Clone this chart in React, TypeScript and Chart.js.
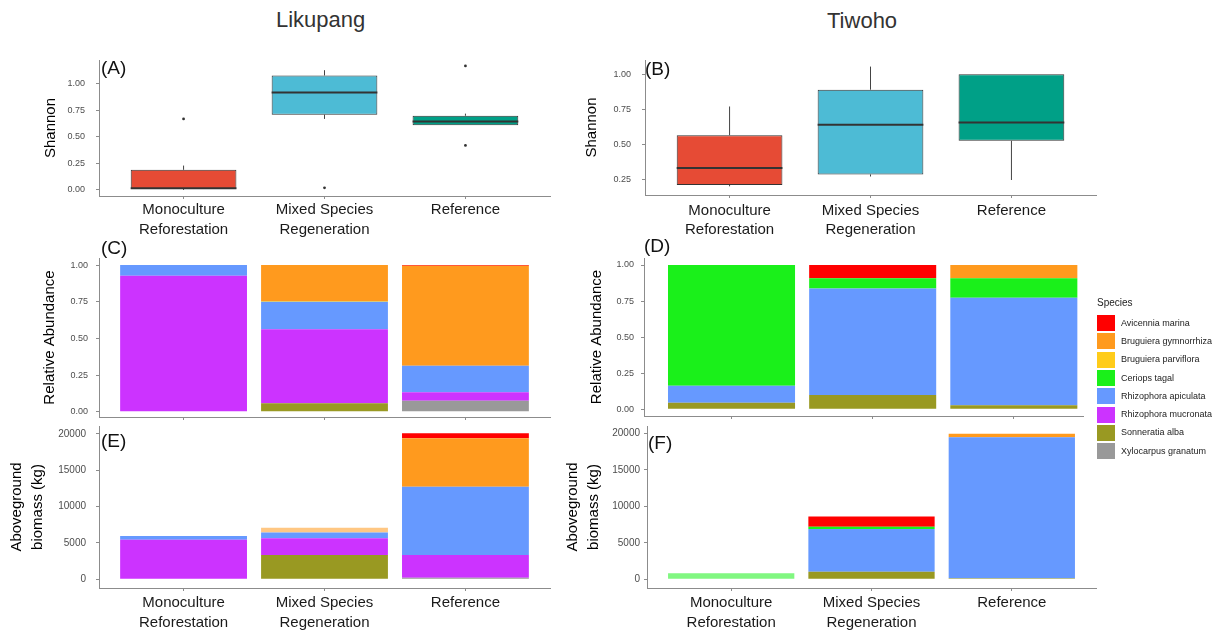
import React, { useEffect, useRef } from "react";
import { Chart, registerables } from "chart.js";

Chart.register(...registerables);

// ---------- data ----------
const groupLabels: string[][] = [["Monoculture", "Reforestation"], ["Mixed Species", "Regeneration"], ["Reference"]];
const groupX = [1, 2, 3];
const boxColors = ["#E64B35", "#4DBBD5", "#00A087"];

// Shannon diversity, Likupang (A)
const likLo = [0.0, 0.67, 0.61];
const likQ1 = [0.01, 0.71, 0.61];
const likMed = [0.015, 0.92, 0.645];
const likQ3 = [0.19, 1.08, 0.70];
const likHi = [0.23, 1.13, 0.72];
const likOutX = [1, 2, 3, 3];
const likOutY = [0.67, 0.02, 1.17, 0.42];

// Shannon diversity, Tiwoho (B)
const tiwLo = [0.2, 0.27, 0.245];
const tiwQ1 = [0.21, 0.285, 0.525];
const tiwMed = [0.33, 0.64, 0.655];
const tiwQ3 = [0.565, 0.89, 1.0];
const tiwHi = [0.77, 1.055, 1.0];
const tiwOutX: number[] = [];
const tiwOutY: number[] = [];

const species = [
  "Avicennia marina",
  "Bruguiera gymnorrhiza",
  "Bruguiera parviflora",
  "Ceriops tagal",
  "Rhizophora apiculata",
  "Rhizophora mucronata",
  "Sonneratia alba",
  "Xylocarpus granatum",
];
const speciesColors = ["#FF0000", "#FF9A1E", "#FFCC1A", "#1AF01A", "#6699FF", "#CC33FF", "#999922", "#999999"];

// Relative abundance, Likupang (C) — per species: [Mono, Mixed, Reference]
const likRelAvicennia = [0, 0, 0.005];
const likRelBgym = [0, 0.245, 0.681];
const likRelBpar = [0, 0.005, 0];
const likRelCeriops = [0, 0, 0];
const likRelRapi = [0.073, 0.188, 0.182];
const likRelRmuc = [0.927, 0.505, 0.057];
const likRelSon = [0, 0.057, 0];
const likRelXyl = [0, 0, 0.075];

// Relative abundance, Tiwoho (D)
const tiwRelAvicennia = [0, 0.092, 0];
const tiwRelBgym = [0, 0, 0.092];
const tiwRelBpar = [0, 0, 0];
const tiwRelCeriops = [0.836, 0.07, 0.135];
const tiwRelRapi = [0.118, 0.739, 0.745];
const tiwRelRmuc = [0, 0, 0];
const tiwRelSon = [0.046, 0.099, 0.028];
const tiwRelXyl = [0, 0, 0];

// Aboveground biomass (kg), Likupang (E)
const likBioAvicennia = [0, 0, 700];
const likBioBgym = [0, 680, 6650];
const likBioBpar = [0, 0, 0];
const likBioCeriops = [0, 0, 0];
const likBioRapi = [500, 780, 9400];
const likBioRmuc = [5450, 2300, 3150];
const likBioSon = [0, 3345, 0];
const likBioXyl = [0, 0, 200];

// Aboveground biomass (kg), Tiwoho (F)
const tiwBioAvicennia = [0, 1400, 0];
const tiwBioBgym = [0, 0, 500];
const tiwBioBpar = [0, 0, 0];
const tiwBioCeriops = [820, 300, 0];
const tiwBioRapi = [0, 5850, 19300];
const tiwBioRmuc = [0, 0, 0];
const tiwBioSon = [0, 1040, 150];
const tiwBioXyl = [0, 0, 0];

const shannonTicksA = [0, 0.25, 0.5, 0.75, 1.0];
const shannonTicksB = [0.25, 0.5, 0.75, 1.0];
const relTicks = [0, 0.25, 0.5, 0.75, 1.0];
const bioTicks = [0, 5000, 10000, 15000, 20000];

// ---------- styling ----------
const FONT = '"Liberation Sans", Arial, Helvetica, sans-serif';
const AXIS = "#8c8c8c";
Chart.defaults.font.family = FONT;

type Rect = { left: number; top: number; width: number; height: number };
interface PanelSpec {
  canvas: Rect;
  plot: { l: number; t: number; r: number; b: number };
  yTitle: string | string[];
  yTitleX: number;
  yTitleLH: number;
  yMin: number;
  yMax: number;
  yTicks: number[];
  yFmt: (v: number) => string;
  yFont: number;
  yPad: number;
  xMin: number;
  xMax: number;
  showX: boolean;
  xPad: number;
  stacked: boolean;
}

function pale(hex: string, k: number) {
  const n = parseInt(hex.slice(1), 16);
  const r = (n >> 16) & 255, g = (n >> 8) & 255, b = n & 255;
  const m = (c: number) => Math.round(c + (255 - c) * k);
  return `rgb(${m(r)},${m(g)},${m(b)})`;
}

function zeroPad(s: any) {
  s.paddingTop = 0;
  s.paddingBottom = 0;
  s.paddingLeft = 0;
  s.paddingRight = 0;
}

function baseOptions(p: PanelSpec): any {
  const c = p.canvas;
  const padLeft = p.yTitleX - c.left - p.yTitleLH / 2;
  const gridOpts = { drawOnChartArea: false, drawTicks: true, tickLength: 3, color: AXIS, lineWidth: 1, offset: false };
  return {
    animation: false,
    responsive: false,
    maintainAspectRatio: false,
    layout: { padding: { left: padLeft, top: p.plot.t - c.top, right: c.left + c.width - p.plot.r, bottom: 0 } },
    plugins: { legend: { display: false }, tooltip: { enabled: false } },
    scales: {
      x: {
        type: "linear",
        offset: false,
        min: p.xMin,
        max: p.xMax,
        stacked: p.stacked,
        afterBuildTicks: (s: any) => {
          s.ticks = groupX.map((v) => ({ value: v }));
        },
        afterFit: (s: any) => {
          s.height = c.top + c.height - p.plot.b;
          zeroPad(s);
        },
        ticks: {
          autoSkip: false,
          maxRotation: 0,
          minRotation: 0,
          padding: p.xPad,
          color: "#1a1a1a",
          font: { family: FONT, size: 15, lineHeight: 1.3 },
          callback: (v: any) => (p.showX ? groupLabels[Math.round(v) - 1] : ""),
        },
        grid: gridOpts,
        border: { display: true, color: AXIS, width: 1 },
      },
      y: {
        type: "linear",
        offset: false,
        min: p.yMin,
        max: p.yMax,
        stacked: p.stacked,
        afterBuildTicks: (s: any) => {
          s.ticks = p.yTicks.map((v) => ({ value: v }));
        },
        afterFit: (s: any) => {
          s.width = p.plot.l - c.left - padLeft;
          zeroPad(s);
        },
        ticks: {
          padding: p.yPad,
          color: "#4d4d4d",
          font: { family: FONT, size: p.yFont },
          callback: (v: any) => p.yFmt(Number(v)),
        },
        grid: gridOpts,
        border: { display: true, color: AXIS, width: 1 },
        title: {
          display: true,
          text: p.yTitle,
          color: "#000",
          padding: 0,
          font: { family: FONT, size: 15, lineHeight: p.yTitleLH / 15 },
        },
      },
    },
  };
}

function boxChart(canvas: HTMLCanvasElement, p: PanelSpec, lo: number[], q1: number[], med: number[], q3: number[], hi: number[], outX: number[], outY: number[]) {
  const plugin = {
    id: "whiskers",
    beforeDatasetsDraw(chart: any) {
      const meta = chart.getDatasetMeta(0);
      const y = chart.scales.y;
      const ctx = chart.ctx;
      ctx.save();
      ctx.strokeStyle = "#444";
      ctx.lineWidth = 1;
      meta.data.forEach((el: any, i: number) => {
        ctx.beginPath();
        ctx.moveTo(el.x, y.getPixelForValue(q3[i]));
        ctx.lineTo(el.x, y.getPixelForValue(hi[i]));
        ctx.moveTo(el.x, y.getPixelForValue(q1[i]));
        ctx.lineTo(el.x, y.getPixelForValue(lo[i]));
        ctx.stroke();
      });
      ctx.restore();
    },
    afterDatasetsDraw(chart: any) {
      const meta = chart.getDatasetMeta(0);
      const y = chart.scales.y;
      const ctx = chart.ctx;
      ctx.save();
      ctx.strokeStyle = "#333";
      ctx.lineWidth = 2;
      meta.data.forEach((el: any, i: number) => {
        const my = y.getPixelForValue(med[i]);
        ctx.beginPath();
        ctx.moveTo(el.x - el.width / 2, my);
        ctx.lineTo(el.x + el.width / 2, my);
        ctx.stroke();
      });
      ctx.restore();
    },
  };
  return new Chart(canvas, {
    type: "bar",
    data: {
      datasets: [
        {
          type: "bar",
          data: groupX.map((x, i) => ({ x, y: [q1[i], q3[i]] })) as any,
          backgroundColor: boxColors,
          borderColor: "#333",
          borderWidth: 1,
          borderSkipped: false,
          barPercentage: 0.75,
          categoryPercentage: 1,
        } as any,
        {
          type: "scatter",
          data: outX.map((x, i) => ({ x, y: outY[i] })),
          pointRadius: 1.4,
          backgroundColor: "#333",
          borderWidth: 0,
        } as any,
      ],
    },
    options: baseOptions(p),
    plugins: [plugin],
  });
}

function stackChart(canvas: HTMLCanvasElement, p: PanelSpec, values: number[][], paleCells: Record<number, number[]>) {
  // values given in legend order; stack bottom-up in reverse legend order
  const order = species.map((_, i) => i).reverse();
  return new Chart(canvas, {
    type: "bar",
    data: {
      datasets: order.map((si) => ({
        label: species[si],
        data: groupX.map((x, i) => ({ x, y: values[si][i] })),
        backgroundColor: groupX.map((_, i) => ((paleCells[si] || []).includes(i) ? pale(speciesColors[si], 0.45) : speciesColors[si])),
        borderWidth: 0,
        barPercentage: 0.9,
        categoryPercentage: 1,
      })) as any,
    },
    options: baseOptions(p),
  });
}

const fmt2 = (v: number) => v.toFixed(2);
const fmt0 = (v: number) => String(Math.round(v));

const specA: PanelSpec = {
  canvas: { left: 0, top: 40, width: 560, height: 210 },
  plot: { l: 99, t: 60, r: 550, b: 196 },
  yTitle: "Shannon", yTitleX: 50.5, yTitleLH: 18,
  yMin: -0.057, yMax: 1.226, yTicks: shannonTicksA, yFmt: fmt2, yFont: 9, yPad: 11,
  xMin: 0.4, xMax: 3.6, showX: true, xPad: 1.3, stacked: false,
};
const specB: PanelSpec = {
  canvas: { left: 560, top: 40, width: 540, height: 210 },
  plot: { l: 645, t: 60, r: 1096, b: 195 },
  yTitle: "Shannon", yTitleX: 592, yTitleLH: 18,
  yMin: 0.138, yMax: 1.102, yTicks: shannonTicksB, yFmt: fmt2, yFont: 9, yPad: 11,
  xMin: 0.4, xMax: 3.6, showX: true, xPad: 2.9, stacked: false,
};
const specC: PanelSpec = {
  canvas: { left: 0, top: 245, width: 560, height: 180 },
  plot: { l: 99, t: 258, r: 550, b: 417 },
  yTitle: "Relative Abundance", yTitleX: 50, yTitleLH: 18,
  yMin: -0.036, yMax: 1.048, yTicks: relTicks, yFmt: fmt2, yFont: 9, yPad: 8,
  xMin: 0.4, xMax: 3.6, showX: false, xPad: 2, stacked: true,
};
const specD: PanelSpec = {
  canvas: { left: 560, top: 245, width: 540, height: 180 },
  plot: { l: 644, t: 258, r: 1083, b: 416 },
  yTitle: "Relative Abundance", yTitleX: 597, yTitleLH: 18,
  yMin: -0.046, yMax: 1.0485, yTicks: relTicks, yFmt: fmt2, yFont: 9, yPad: 7,
  xMin: 0.38, xMax: 3.49, showX: false, xPad: 2, stacked: true,
};
const specE: PanelSpec = {
  canvas: { left: 0, top: 420, width: 560, height: 214 },
  plot: { l: 99, t: 426, r: 550, b: 588 },
  yTitle: ["Aboveground", "biomass (kg)"], yTitleX: 17, yTitleLH: 21,
  yMin: -1198, yMax: 21100, yTicks: bioTicks, yFmt: fmt0, yFont: 10, yPad: 10,
  xMin: 0.4, xMax: 3.6, showX: true, xPad: 2.2, stacked: true,
};
const specF: PanelSpec = {
  canvas: { left: 560, top: 420, width: 540, height: 214 },
  plot: { l: 647, t: 426, r: 1096, b: 588 },
  yTitle: ["Aboveground", "biomass (kg)"], yTitleX: 573, yTitleLH: 21,
  yMin: -1192, yMax: 21000, yTicks: bioTicks, yFmt: fmt0, yFont: 10, yPad: 4,
  xMin: 0.4, xMax: 3.6, showX: true, xPad: 2.2, stacked: true,
};

const likRel = [likRelAvicennia, likRelBgym, likRelBpar, likRelCeriops, likRelRapi, likRelRmuc, likRelSon, likRelXyl];
const tiwRel = [tiwRelAvicennia, tiwRelBgym, tiwRelBpar, tiwRelCeriops, tiwRelRapi, tiwRelRmuc, tiwRelSon, tiwRelXyl];
const likBio = [likBioAvicennia, likBioBgym, likBioBpar, likBioCeriops, likBioRapi, likBioRmuc, likBioSon, likBioXyl];
const tiwBio = [tiwBioAvicennia, tiwBioBgym, tiwBioBpar, tiwBioCeriops, tiwBioRapi, tiwBioRmuc, tiwBioSon, tiwBioXyl];

function ChartBox({ rect, build }: { rect: Rect; build: (c: HTMLCanvasElement) => Chart }) {
  const ref = useRef<HTMLCanvasElement>(null);
  useEffect(() => {
    const ch = build(ref.current as HTMLCanvasElement);
    return () => ch.destroy();
  }, []);
  return (
    <canvas
      ref={ref}
      width={rect.width}
      height={rect.height}
      style={{ position: "absolute", left: rect.left, top: rect.top, width: rect.width, height: rect.height }}
    />
  );
}

function Txt({ x, y, size, children, color = "#111" }: { x: number; y: number; size: number; children: React.ReactNode; color?: string }) {
  return (
    <div style={{ position: "absolute", left: x, top: y, fontSize: size, lineHeight: `${size}px`, color, whiteSpace: "nowrap", fontFamily: FONT }}>
      {children}
    </div>
  );
}

export default function App() {
  return (
    <div style={{ position: "absolute", left: 0, top: 0, width: 1227, height: 634, background: "#fff", overflow: "hidden", fontFamily: FONT }}>
      <ChartBox rect={specA.canvas} build={(c) => boxChart(c, specA, likLo, likQ1, likMed, likQ3, likHi, likOutX, likOutY)} />
      <ChartBox rect={specB.canvas} build={(c) => boxChart(c, specB, tiwLo, tiwQ1, tiwMed, tiwQ3, tiwHi, tiwOutX, tiwOutY)} />
      <ChartBox rect={specC.canvas} build={(c) => stackChart(c, specC, likRel, {})} />
      <ChartBox rect={specD.canvas} build={(c) => stackChart(c, specD, tiwRel, {})} />
      <ChartBox rect={specE.canvas} build={(c) => stackChart(c, specE, likBio, { 1: [1] })} />
      <ChartBox rect={specF.canvas} build={(c) => stackChart(c, specF, tiwBio, { 3: [0] })} />

      <Txt x={276} y={8.5} size={22} color="#333">Likupang</Txt>
      <Txt x={827} y={9.5} size={22} color="#333">Tiwoho</Txt>

      <Txt x={101} y={58} size={19}>(A)</Txt>
      <Txt x={645} y={58.5} size={19}>(B)</Txt>
      <Txt x={101} y={238} size={19}>(C)</Txt>
      <Txt x={644} y={236} size={19}>(D)</Txt>
      <Txt x={101} y={431} size={19}>(E)</Txt>
      <Txt x={648} y={433} size={19}>(F)</Txt>

      <Txt x={1097} y={298} size={10} color="#222">Species</Txt>
      {species.map((s, i) => (
        <React.Fragment key={s}>
          <div style={{ position: "absolute", left: 1097, top: 315 + i * 18.3, width: 18, height: 16, background: speciesColors[i] }} />
          <Txt x={1121} y={315 + i * 18.3 + 3.6} size={9} color="#222">{s}</Txt>
        </React.Fragment>
      ))}
    </div>
  );
}
